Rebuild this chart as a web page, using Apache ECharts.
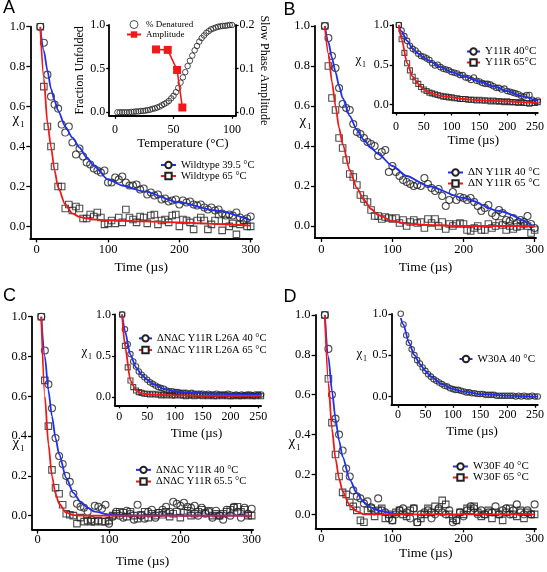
<!DOCTYPE html>
<html><head><meta charset="utf-8">
<script src="https://cdn.jsdelivr.net/npm/echarts@6/dist/echarts.min.js"></script>
<style>html,body{margin:0;padding:0;background:#fff}#c{width:547px;height:572px}</style>
</head><body><div id="c"></div>
<script>
// ---------- DATA ----------
const T_MAIN = [5,10,15,20,25,30,35,40,45,50,55,60,65,70,75,80,85,90,95,100,105,110,115,120,125,130,135,140,145,150,155,160,165,170,175,180,185,190,195,200,205,210,215,220,225,230,235,240,245,250,255,260,265,270,275,280,285,290,295,300];
const T_INSET = [5,10,15,20,25,30,35,40,45,50,55,60,65,70,75,80,85,90,95,100,105,110,115,120,125,130,135,140,145,150,155,160,165,170,175,180,185,190,195,200,205,210,215,220,225,230,235,240,245,250,255];
const FIT_T_MAIN = [5,10,15,20,25,30,40,50,60,70,80,100,120,150,200,250,300];
const FIT_T_D40 = [5,10,15,20,25,30,40,50,60,70,80,100,110];
const FIT_T_INSET = [5,10,20,30,40,50,60,80,100,120,150,175,200,225,250,255];

// Panel A
const A_WT395 = [1.00,0.92,0.76,0.65,0.61,0.59,0.51,0.47,0.50,0.42,0.36,0.39,0.35,0.32,0.31,0.29,0.28,0.27,0.28,0.22,0.22,0.245,0.235,0.25,0.22,0.205,0.205,0.21,0.185,0.19,0.16,0.17,0.155,0.16,0.135,0.14,0.125,0.13,0.135,0.11,0.13,0.12,0.125,0.11,0.105,0.11,0.095,0.085,0.095,0.08,0.085,0.065,0.055,0.06,0.055,0.07,0.045,0.03,0.04,0.05];
const A_WT65 = [1.00,0.70,0.50,0.40,0.30,0.20,0.20,0.09,0.11,0.08,0.10,0.09,0.04,0.04,0.06,0.05,0.07,0.045,0.01,0.015,0.03,0.015,0.045,0.02,0.085,0.045,0.035,0.02,0.05,0.045,0.015,0.055,0.06,0.01,0.03,0.035,0.02,0.055,0.06,0.0,0.035,0.03,0.02,-0.015,0.03,0.045,0.03,-0.015,0.01,0.03,0.06,-0.02,0.03,0.0,0.015,-0.04,0.01,0.03,0.0,0.0];
const FIT_A_395 = [0.99,0.88,0.78,0.69,0.63,0.58,0.50,0.445,0.395,0.345,0.305,0.235,0.205,0.175,0.12,0.08,0.03];
const FIT_A_65 = [1.0,0.74,0.52,0.40,0.28,0.195,0.11,0.065,0.048,0.04,0.035,0.03,0.028,0.025,0.02,0.012,0.004];
const TEMP = [2,4,6,8,10,12,14,16,18,20,22,24,26,28,30,32,34,36,38,40,42,44,46,48,50,52,54,56,58,60,62,64,66,68,70,72,74,76,78,80,82,84,86,88,90,92,94,96,98,100];
const DENATURED = [0,0,0,0,0,0,0.005,0.005,0.01,0.01,0.015,0.015,0.02,0.025,0.03,0.04,0.045,0.055,0.065,0.08,0.095,0.11,0.13,0.16,0.19,0.23,0.28,0.34,0.40,0.46,0.53,0.59,0.65,0.71,0.76,0.81,0.85,0.88,0.91,0.93,0.95,0.96,0.97,0.98,0.985,0.99,0.99,0.995,1.0,1.0];
const AMP_T = [35,45,53,57.5];
const AMPLITUDE = [0.144,0.143,0.097,0.011];

// Panel B
const B_DN40 = [1.00,0.94,0.85,0.79,0.69,0.61,0.59,0.58,0.51,0.47,0.46,0.44,0.42,0.41,0.40,0.35,0.37,0.38,0.27,0.30,0.27,0.25,0.23,0.22,0.21,0.20,0.205,0.20,0.24,0.21,0.19,0.175,0.185,0.15,0.10,0.13,0.17,0.13,0.145,0.14,0.13,0.14,0.12,0.10,0.075,0.09,0.105,0.065,0.05,0.08,0.065,0.03,0.025,0.04,0.015,0.03,0.02,0.05,0.01,-0.01];
const B_DN65 = [1.00,0.80,0.64,0.58,0.44,0.39,0.33,0.26,0.245,0.205,0.155,0.135,0.12,0.08,0.05,0.05,0.035,0.045,0.04,0.035,0.04,0.015,0.03,0.0,0.02,0.03,0.015,0.02,-0.01,0.035,0.015,0.035,0.0,0.02,-0.015,0.01,0.0,0.01,0.015,0.01,-0.02,-0.025,-0.01,0.0,-0.02,-0.02,0.01,-0.01,0.0,0.015,0.005,-0.02,0.0,-0.015,-0.005,0.0,0.01,0.0,-0.035,-0.02];
const FIT_B_40 = [1.0,0.92,0.84,0.77,0.70,0.64,0.55,0.48,0.43,0.39,0.36,0.30,0.25,0.20,0.14,0.075,-0.005];
const FIT_B_65 = [1.0,0.86,0.72,0.60,0.49,0.41,0.28,0.19,0.13,0.085,0.055,0.025,0.012,0.005,0.0,0.0,0.0];
const IB_40 = [1.0,0.93,0.86,0.80,0.74,0.70,0.68,0.64,0.61,0.60,0.58,0.56,0.52,0.49,0.50,0.47,0.45,0.44,0.43,0.41,0.40,0.39,0.37,0.37,0.34,0.33,0.31,0.34,0.30,0.29,0.27,0.26,0.26,0.25,0.23,0.21,0.21,0.19,0.20,0.17,0.16,0.15,0.14,0.13,0.11,0.10,0.12,0.12,0.06,0.04,0.05];
const IB_65 = [1.0,0.82,0.65,0.52,0.43,0.35,0.30,0.26,0.22,0.19,0.17,0.15,0.14,0.13,0.12,0.11,0.10,0.10,0.09,0.09,0.08,0.08,0.07,0.07,0.07,0.06,0.06,0.06,0.05,0.06,0.05,0.05,0.05,0.04,0.05,0.04,0.04,0.04,0.03,0.04,0.03,0.03,0.03,0.02,0.03,0.02,0.02,0.01,0.02,0.02,0.03];
const FIT_IB_40 = [0.98,0.92,0.80,0.70,0.64,0.59,0.55,0.47,0.41,0.36,0.29,0.23,0.17,0.11,0.06,0.05];
const FIT_IB_65 = [1.0,0.82,0.52,0.35,0.26,0.19,0.15,0.11,0.09,0.07,0.055,0.045,0.04,0.03,0.025,0.025];

// Panel C
const C_40 = [1.00,0.83,0.66,0.54,0.39,0.30,0.26,0.20,0.17,0.11,0.06,0.045,0.04,0.02,-0.02,0.05,0.045,0.035,0.055,-0.04,-0.005,0.02,0.0,-0.01,0.025,0.01,-0.02,0.055,0.0,-0.015,0.02,0.03,-0.01,0.015,0.03,0.045,0.02,0.07,0.06,0.05,0.065,0.045,0.04,0.05,0.0,0.04,0.01,0.02,-0.01,0.025,0.0,-0.02,0.03,0.0,0.045,0.02,-0.01,0.04,0.01,0.035];
const C_655 = [1.00,0.68,0.45,0.23,0.14,0.11,0.055,0.01,0.005,0.0,-0.04,-0.01,-0.03,-0.025,-0.03,-0.03,-0.025,-0.03,-0.03,-0.025,0.0,0.01,0.02,0.015,-0.005,0.02,0.0,-0.015,0.005,0.02,-0.01,0.01,0.0,0.015,0.005,0.02,-0.005,0.01,0.02,-0.01,0.015,0.025,0.0,0.01,0.02,0.03,0.015,0.025,0.0,0.01,0.0,0.01,0.02,0.03,0.04,0.045,0.02,0.03,0.0,0.0];
const FIT_C_40 = [1.0,0.80,0.63,0.50,0.39,0.31,0.19,0.115,0.07,0.04,0.02,0.005,0.0,0.0,0.0,0.0,0.0];
const FIT_C_655 = [1.0,0.60,0.36,0.20,0.11,0.06,0.015,0.003,0.0,0.0,0.0,0.0,0.0,0.0,0.0,0.0,0.0];
const IC_40 = [1.0,0.82,0.64,0.52,0.43,0.37,0.31,0.27,0.24,0.21,0.18,0.16,0.14,0.12,0.11,0.10,0.08,0.07,0.07,0.06,0.06,0.05,0.05,0.05,0.04,0.05,0.04,0.04,0.04,0.04,0.03,0.04,0.03,0.03,0.04,0.03,0.03,0.03,0.04,0.03,0.02,0.03,0.02,0.03,0.02,0.03,0.03,0.02,0.03,0.03,0.03];
const IC_65 = [1.0,0.62,0.36,0.20,0.12,0.08,0.06,0.05,0.04,0.04,0.03,0.04,0.03,0.03,0.02,0.03,0.02,0.03,0.02,0.02,0.03,0.02,0.02,0.01,0.02,0.02,0.01,0.02,0.02,0.01,0.02,0.01,0.02,0.01,0.01,0.02,0.01,0.02,0.01,0.01,0.01,0.02,0.01,0.01,0.02,0.01,0.02,0.01,0.01,0.02,0.01];
const FIT_IC_40 = [1.0,0.80,0.51,0.36,0.27,0.21,0.16,0.10,0.07,0.055,0.045,0.04,0.035,0.03,0.025,0.025];
const FIT_IC_65 = [1.0,0.62,0.20,0.08,0.045,0.035,0.03,0.025,0.02,0.02,0.015,0.015,0.015,0.015,0.015,0.015];

// Panel D
const D_40 = [1.00,0.83,0.60,0.48,0.40,0.32,0.23,0.19,0.12,0.09,0.08,0.055,0.065,0.035,0.015,0.08,0.02,0.01,-0.02,-0.03,0.0,0.02,0.03,0.01,-0.02,0.03,-0.04,0.0,0.01,0.02,-0.02,0.0,0.03,0.01,0.0,0.02,-0.04,-0.03,0.01,-0.01,0.02,0.04,0.03,0.0,0.02,0.0,0.01,0.01,0.04,0.0,0.02,0.03,0.0,0.02,0.05,0.01,0.0,0.02,0.0,0.05];
const D_65 = [1.00,0.68,0.46,0.30,0.19,0.11,0.10,0.06,0.04,0.02,-0.03,-0.04,0.02,0.03,-0.01,0.02,0.03,-0.02,0.0,-0.03,0.01,0.02,0.0,-0.01,0.02,0.03,-0.04,-0.02,0.0,0.03,0.01,0.04,0.02,0.07,0.05,0.0,-0.02,-0.03,0.01,0.0,0.03,0.02,0.04,0.01,-0.01,0.0,0.02,-0.02,0.01,0.0,-0.03,0.01,0.03,0.0,-0.01,0.02,-0.02,0.01,0.0,0.0];
const FIT_D_40 = [1.0,0.79,0.62,0.48,0.37,0.29,0.175,0.105,0.06,0.035,0.02,0.005,0.0];
const FIT_D_65 = [1.0,0.66,0.43,0.28,0.18,0.115,0.045,0.015,0.0,0.0,0.0,0.0,0.0,0.0,0.0,0.0,0.0];
const ID_40 = [1.0,0.87,0.74,0.65,0.57,0.50,0.44,0.40,0.35,0.31,0.27,0.24,0.21,0.19,0.17,0.15,0.13,0.12,0.10,0.09,0.08,0.08,0.07,0.06,0.05,0.05,0.04,0.04,0.03,0.03,0.03,0.02,0.02,0.02,0.02,0.01,0.01,0.01,0.01,0.01,0.01,0.01,0.0,0.01,0.0,0.01,0.0,0.0,0.01,0.0,0.0];
const FIT_ID_40 = [0.95,0.87,0.65,0.50,0.39,0.31,0.24,0.15,0.09,0.06,0.03,0.02,0.01,0.005,0.0,0.0];

// Tick labels
const X_MAIN_TICKS = [0,100,200,300];
const Y_MAIN_TICKS = [0,0.2,0.4,0.6,0.8,1];
const X_INSET_TICKS = [0,50,100,150,200,250];
const Y_INSET_TICKS = [0,0.5,1];
const X_TEMP_TICKS = [0,50,100];
const Y_AMP_TICKS = [0,0.1,0.2];

// ---------- STYLE / BUILD ----------
const SERIF = '"Liberation Serif", "Times New Roman", serif';
const SANS = '"Liberation Sans", Arial, sans-serif';
const BLUE = '#1f2fee', RED = '#f01818', MK = '#222';
const zip = (xs, ys) => xs.map((x, i) => [x, ys[i]]);
const f1 = v => v.toFixed(1);

const grids = [
  {left:30.3, top:26.7, width:221.8, height:211.7},   // A main
  {left:109.2, top:25, width:126.4, height:90.8},     // A inset
  {left:314.9, top:26, width:221.8, height:212},      // B main
  {left:392.7, top:25, width:145.4, height:87.5},     // B inset
  {left:32, top:316.7, width:221.1, height:212.9},    // C main
  {left:114.9, top:314.5, width:146.2, height:90.8},  // C inset
  {left:315.6, top:315, width:221.1, height:213.3},   // D main
  {left:391.4, top:313.8, width:146.6, height:91}     // D inset
];

function xAx(gi, min, max, vals, o) {
  return {type:'value', gridIndex:gi, min, max, position:'bottom',
    axisLine:{show:true, onZero:false, lineStyle:{color:'#000', width:1.8}},
    axisTick:{show:true, customValues:vals, length:o.tick, lineStyle:{color:'#000', width:1.3}},
    axisLabel:{customValues:vals, margin:o.margin, color:'#000', fontFamily:SERIF, fontSize:o.fs},
    splitLine:{show:false},
    name:o.name, nameLocation:'middle', nameGap:o.gap,
    nameTextStyle:{fontFamily:SERIF, fontSize:o.nfs, color:'#000', padding:o.pad || 0}};
}
function yAx(gi, min, max, vals, o) {
  return {type:'value', gridIndex:gi, min, max, position:o.pos || 'left',
    axisLine:{show:true, onZero:false, lineStyle:{color:'#000', width:1.8}},
    axisTick:{show:true, customValues:vals, length:o.tick, lineStyle:{color:'#000', width:1.3}},
    axisLabel:{customValues:vals, margin:o.margin, color:'#000', fontFamily:SERIF, fontSize:o.fs, formatter:f1},
    splitLine:{show:false},
    name:o.name || '', nameLocation:'middle', nameGap:o.gap || 0, nameRotate:o.rot,
    nameTextStyle:{fontFamily:SERIF, fontSize:o.nfs || 12, color:'#000'}};
}
const mainX = (gi, min, margin, gap) => xAx(gi, min, 302, X_MAIN_TICKS, {tick:4, margin, fs:12.5, name:'Time (µs)', gap, nfs:13.5});
const insetX = (gi, min, margin, gap, pad) => xAx(gi, min, 255, X_INSET_TICKS, {tick:3, margin, fs:12, name:'Time (µs)', gap, nfs:13, pad:[0,0,0,pad]});
const mainY = (gi, min) => yAx(gi, min, 1, Y_MAIN_TICKS, {tick:4, margin:5, fs:12.5});
const insetY = (gi, min) => yAx(gi, min, 1, Y_INSET_TICKS, {tick:3, margin:4, fs:12});

const xAxis = [
  mainX(0, -9, 5, 22.5),
  xAx(1, -5, 103, X_TEMP_TICKS, {tick:3, margin:8, fs:12, name:'Temperature (°C)', gap:19, nfs:13, pad:[0,0,0,21]}),
  mainX(2, -9, 5, 22),
  insetX(3, -6, 8, 21.5, 16),
  mainX(4, -8, 4, 25),
  insetX(5, -8, 5.5, 21.5, 17),
  mainX(6, -8, 4, 18.5),
  insetX(7, -12, 4, 20.5, 15)
];
const yAxis = [
  mainY(0, -0.06),
  yAx(1, -0.04, 1, Y_INSET_TICKS, {tick:3, margin:4, fs:12, name:'Fraction Unfolded', gap:21, rot:90, nfs:12}),
  mainY(2, -0.06),
  insetY(3, -0.1),
  mainY(4, -0.07),
  insetY(5, -0.1),
  mainY(6, -0.07),
  insetY(7, -0.1),
  yAx(1, -0.008, 0.2, Y_AMP_TICKS, {pos:'right', tick:3, margin:4, fs:12, name:'Slow Phase Amplitude', gap:21, rot:-90, nfs:12})
];

function pts(name, gi, xs, ys, shape, size) {
  return {type:'scatter', name, xAxisIndex:gi, yAxisIndex:gi, data:zip(xs, ys), symbol:shape, symbolSize:size,
    itemStyle:{color:'rgba(255,255,255,0)', borderColor:MK, borderWidth:1.1}, clip:false, silent:true, z:2};
}
function fit(gi, xs, ys, color) {
  return {type:'line', xAxisIndex:gi, yAxisIndex:gi, data:zip(xs, ys), showSymbol:false, symbol:'none',
    smooth:0.25, smoothMonotone:'x', lineStyle:{color, width:1.8}, clip:false, silent:true, z:3};
}
function legendSeries(name, gi, color, shape) {
  return {type:'line', name, xAxisIndex:gi, yAxisIndex:gi, data:[], symbol:shape, symbolSize:6,
    itemStyle:{color:'#fff', borderColor:MK, borderWidth:1.1}, lineStyle:{color, width:1.8}};
}

const series = [
  // A main
  pts('a1', 0, T_MAIN, A_WT395, 'circle', 7), pts('a2', 0, T_MAIN, A_WT65, 'rect', 6.5),
  fit(0, FIT_T_MAIN, FIT_A_395, BLUE), fit(0, FIT_T_MAIN, FIT_A_65, RED),
  legendSeries('Wildtype 39.5 °C', 0, BLUE, 'circle'), legendSeries('Wildtype 65 °C', 0, RED, 'rect'),
  // A inset
  {type:'scatter', name:'% Denatured', xAxisIndex:1, yAxisIndex:1, data:zip(TEMP, DENATURED), symbol:'circle', symbolSize:5.5,
   itemStyle:{color:'rgba(255,255,255,0)', borderColor:MK, borderWidth:1}, clip:false, z:2},
  {type:'line', name:'Amplitude', xAxisIndex:1, yAxisIndex:8, data:zip(AMP_T, AMPLITUDE), symbol:'rect', symbolSize:8,
   itemStyle:{color:RED}, lineStyle:{color:RED, width:1.6}, clip:false, z:3},
  // B main
  pts('b1', 2, T_MAIN, B_DN40, 'circle', 7), pts('b2', 2, T_MAIN, B_DN65, 'rect', 6.5),
  fit(2, FIT_T_MAIN, FIT_B_40, BLUE), fit(2, FIT_T_MAIN, FIT_B_65, RED),
  legendSeries('ΔN Y11R 40 °C', 2, BLUE, 'circle'), legendSeries('ΔN Y11R 65 °C', 2, RED, 'rect'),
  // B inset
  pts('b3', 3, T_INSET, IB_40, 'circle', 5.5), pts('b4', 3, T_INSET, IB_65, 'rect', 5),
  fit(3, FIT_T_INSET, FIT_IB_40, BLUE), fit(3, FIT_T_INSET, FIT_IB_65, RED),
  legendSeries('Y11R 40°C', 3, BLUE, 'circle'), legendSeries('Y11R 65°C', 3, RED, 'rect'),
  // C main
  pts('c1', 4, T_MAIN, C_40, 'circle', 7), pts('c2', 4, T_MAIN, C_655, 'rect', 6.5),
  fit(4, FIT_T_MAIN, FIT_C_40, BLUE), fit(4, FIT_T_MAIN, FIT_C_655, RED),
  legendSeries('ΔNΔC Y11R 40 °C', 4, BLUE, 'circle'), legendSeries('ΔNΔC Y11R 65.5 °C', 4, RED, 'rect'),
  // C inset
  pts('c3', 5, T_INSET, IC_40, 'circle', 5.5), pts('c4', 5, T_INSET, IC_65, 'rect', 5),
  fit(5, FIT_T_INSET, FIT_IC_40, BLUE), fit(5, FIT_T_INSET, FIT_IC_65, RED),
  legendSeries('ΔNΔC Y11R L26A 40 °C', 5, BLUE, 'circle'), legendSeries('ΔNΔC Y11R L26A 65 °C', 5, RED, 'rect'),
  // D main
  pts('d1', 6, T_MAIN, D_40, 'circle', 7), pts('d2', 6, T_MAIN, D_65, 'rect', 6.5),
  fit(6, FIT_T_D40, FIT_D_40, BLUE), fit(6, FIT_T_MAIN, FIT_D_65, RED),
  legendSeries('W30F 40 °C', 6, BLUE, 'circle'), legendSeries('W30F 65 °C', 6, RED, 'rect'),
  // D inset
  pts('d3', 7, T_INSET, ID_40, 'circle', 5.5),
  fit(7, FIT_T_INSET, FIT_ID_40, BLUE),
  legendSeries('W30A 40 °C', 7, BLUE, 'circle')
];

function leg(names, left, top, fs, iw, lh) {
  return {data:names, left, top, orient:'vertical', itemWidth:iw, itemHeight:8, itemGap:0, padding:0,
    selectedMode:false, textStyle:{fontFamily:SERIF, fontSize:fs, color:'#000', lineHeight:lh}};
}
const legend = [
  leg(['Wildtype 39.5 °C','Wildtype 65 °C'], 160, 159.5, 10.5, 15, 11),
  leg([{name:'% Denatured', itemStyle:{color:'#fff', borderColor:MK, borderWidth:1}}, 'Amplitude'], 126, 19.5, 9, 14, 10),
  leg(['ΔN Y11R 40 °C','ΔN Y11R 65 °C'], 447, 167, 11, 15, 11),
  leg(['Y11R 40°C','Y11R 65°C'], 466, 46, 11, 13, 11),
  leg(['ΔNΔC Y11R 40 °C','ΔNΔC Y11R 65.5 °C'], 135, 464, 10.5, 15, 11.7),
  leg(['ΔNΔC Y11R L26A 40 °C','ΔNΔC Y11R L26A 65 °C'], 138, 332.5, 10.5, 13, 11.7),
  leg(['W30F 40 °C','W30F 65 °C'], 452, 461, 11, 15, 11),
  leg(['W30A 40 °C'], 458.5, 353.5, 11, 13, 11)
];

function txt(t, x, y, fs, fam) {
  return {type:'text', x, y, silent:true,
    style:{text:t, fill:'#000', fontSize:fs, fontFamily:fam, textAlign:'left', textVerticalAlign:'middle', align:'left', verticalAlign:'middle'}};
}
function chi(x, y, big, small) {
  return [txt('χ', x, y, big, SERIF), txt('1', x + big * 0.5, y + big * 0.35, small, SERIF)];
}
const graphic = [
  txt('A', 3, 8.5, 18, SANS), txt('B', 283.5, 10, 18, SANS),
  txt('C', 3, 296.5, 18, SANS), txt('D', 283.5, 297.5, 18, SANS),
  ...chi(12.5, 119, 15, 9), ...chi(299.5, 121, 15, 9),
  ...chi(12.5, 443, 15, 9), ...chi(288.5, 442, 15, 9),
  ...chi(355.5, 60, 13, 8), ...chi(81.5, 352, 13, 8), ...chi(356.5, 354, 13, 8)
];

const chart = echarts.init(document.getElementById('c'), null, {renderer:'canvas'});
chart.setOption({animation:false, backgroundColor:'#fff', grid:grids, xAxis, yAxis, series, legend, graphic});
</script></body></html>
